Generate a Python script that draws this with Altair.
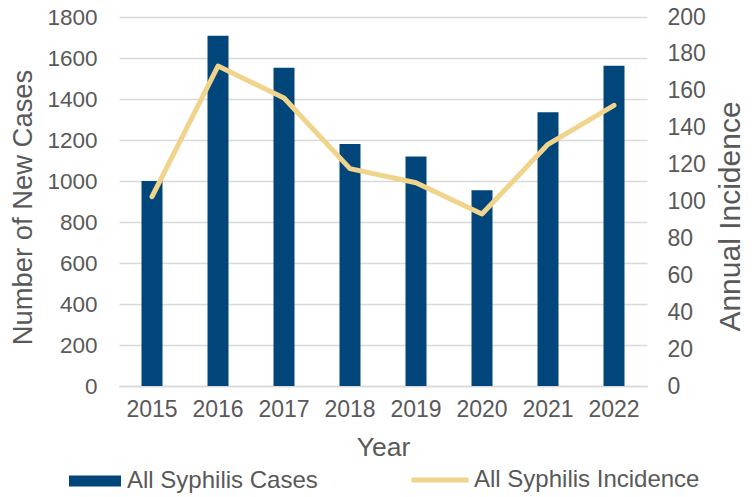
import altair as alt
import pandas as pd

years = ["2015", "2016", "2017", "2018", "2019", "2020", "2021", "2022"]
cases = [1000, 1708, 1552, 1181, 1119, 955, 1335, 1562]
incidence = [102.6, 173.4, 156.1, 117.8, 110.2, 93.2, 131.0, 152.1]

df = pd.DataFrame({"Year": years, "Cases": cases, "Incidence": incidence})
df["s1"] = "All Syphilis Cases"
df["s2"] = "All Syphilis Incidence"

FONT = "Liberation Sans"
GRAY = "#595959"
BLUE = "#00467A"
TAN = "#F0D48C"

x = alt.X(
    "Year:N",
    scale=alt.Scale(paddingInner=0.682, paddingOuter=0.341),
    axis=alt.Axis(
        title="Year", labelAngle=0, labelFontSize=23, labelPadding=12,
        titleFontSize=26.5, titleX=264, titleY=61, titleBaseline="middle",
        domainColor="#D9D9D9", domainWidth=1.5, ticks=False,
    ),
)

bars = alt.Chart(df).mark_bar(color=BLUE).encode(
    x=x,
    y=alt.Y(
        "Cases:Q",
        scale=alt.Scale(domain=[0, 1800]),
        axis=alt.Axis(
            title="Number of New Cases", values=list(range(0, 1801, 200)),
            format="d", labelFontSize=22.5, labelPadding=22, ticks=False, domain=False,
            gridColor="#D9D9D9", gridWidth=1.5,
            titleFontSize=27.4, titleAngle=270, titleX=-96, titleY=190,
            titleBaseline="middle",
        ),
    ),
    color=alt.Color(
        "s1:N",
        scale=alt.Scale(domain=["All Syphilis Cases"], range=[BLUE]),
        legend=alt.Legend(
            title=None, orient="none", legendX=-50, legendY=438,
            symbolType="M-1,-0.21L1,-0.21L1,0.21L-1,0.21Z", symbolSize=2704,
            symbolStrokeWidth=0, labelFontSize=24, labelOffset=6, labelLimit=0,
            labelColor=GRAY, labelFont=FONT,
        ),
    ),
)

line = alt.Chart(df).mark_line(color=TAN, strokeWidth=5, strokeJoin="round", strokeCap="round").encode(
    x=x,
    y=alt.Y(
        "Incidence:Q",
        scale=alt.Scale(domain=[0, 200]),
        axis=alt.Axis(
            title="Annual Incidence", orient="right", values=list(range(0, 201, 20)),
            format="d", labelFontSize=23, labelPadding=20, ticks=False, domain=False, grid=False,
            titleFontSize=30, titleAngle=270, titleX=83, titleY=199,
            titleBaseline="middle",
        ),
    ),
    stroke=alt.Stroke(
        "s2:N",
        scale=alt.Scale(domain=["All Syphilis Incidence"], range=[TAN]),
        legend=alt.Legend(
            title=None, orient="none", legendX=290, legendY=432,
            symbolType="stroke", symbolSize=3249, symbolStrokeWidth=5,
            labelFontSize=24, labelOffset=3, labelLimit=0, labelColor=GRAY, labelFont=FONT,
        ),
    ),
)

chart = (
    alt.layer(bars, line)
    .resolve_scale(y="independent", color="independent", stroke="independent")
    .properties(
        width=528, height=369,
        autosize=alt.AutoSizeParams(type="none"),
        padding={"left": 111, "top": 9, "right": 100, "bottom": 108},
    )
    .configure_view(stroke=None)
    .configure_axis(
        labelFont=FONT, titleFont=FONT, labelColor=GRAY, titleColor=GRAY,
        titleFontWeight="normal",
    )
    .configure_legend(labelFont=FONT, labelColor=GRAY)
)

chart.save("out.html", embed_options={"renderer": "svg", "actions": False})
